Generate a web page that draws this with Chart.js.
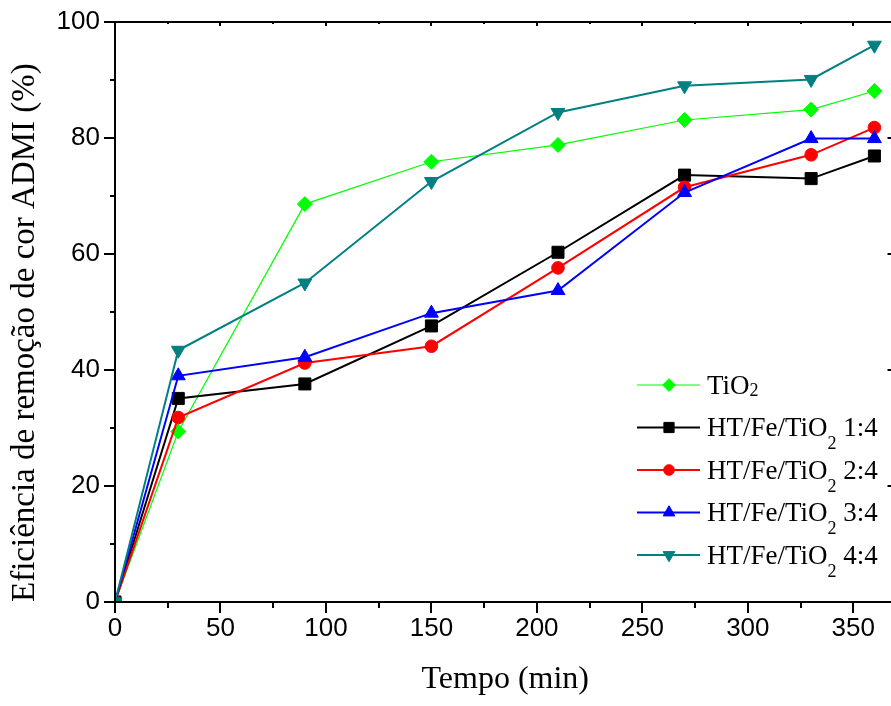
<!DOCTYPE html>
<html><head><meta charset="utf-8">
<script src="https://cdn.jsdelivr.net/npm/chart.js@4.4.1/dist/chart.umd.min.js"></script>
<style>
html,body{margin:0;padding:0;background:#fff;overflow:hidden;}
#wrap{width:891px;height:706px;overflow:hidden;position:relative;background:#fff;}
#inner{width:905px;height:706px;}
canvas{display:block;}
</style></head><body>
<div id="wrap"><div id="inner"><canvas id="c" width="905" height="706"></canvas></div></div>
<script>
// ---- data ----
const times = [0, 30, 90, 150, 210, 270, 330, 360];
const tio2  = [0, 29.4, 68.6, 75.9, 78.8, 83.1, 84.9, 88.1];
const ht14  = [0, 35.1, 37.6, 47.6, 60.3, 73.6, 73.0, 76.9];
const ht24  = [0, 31.8, 41.2, 44.1, 57.6, 71.5, 77.1, 81.8];
const ht34  = [0, 39.0, 42.2, 49.8, 53.7, 70.6, 79.9, 79.9];
const ht44  = [0, 43.4, 55.0, 72.5, 84.4, 89.0, 90.1, 96.0];
const seriesNames = ['TiO₂', 'HT/Fe/TiO₂ 1:4', 'HT/Fe/TiO₂ 2:4', 'HT/Fe/TiO₂ 3:4', 'HT/Fe/TiO₂ 4:4'];
const xTickValues = [0, 50, 100, 150, 200, 250, 300, 350];
const yTickValues = [0, 20, 40, 60, 80, 100];
const xTitle = 'Tempo (min)';
const yTitle = 'Eficiência de remoção de cor ADMI (%)';

// ---- styles ----
const styles = [
  {color:'#00ff00', style:'rectRot', radius:7.5, rotation:0, width:1.2},
  {color:'#000000', style:'rect', radius:8.5, rotation:0, width:2},
  {color:'#ff0000', style:'circle', radius:6.3, rotation:0, width:2},
  {color:'#0000ff', style:'triangle', radius:8, rotation:0, width:2},
  {color:'#008080', style:'triangle', radius:8, rotation:180, width:2}
];
const allSeries = [tio2, ht14, ht24, ht34, ht44];

const datasets = allSeries.map((vals, i) => ({
  label: seriesNames[i],
  data: times.map((t, k) => ({x: t, y: vals[k]})),
  borderColor: styles[i].color,
  backgroundColor: styles[i].color,
  pointBackgroundColor: styles[i].color,
  pointBorderColor: styles[i].color,
  pointBorderWidth: 1,
  borderWidth: styles[i].width,
  pointStyle: styles[i].style,
  pointRotation: styles[i].rotation,
  pointRadius: styles[i].radius,
  tension: 0,
  clip: 0,
  order: 5 - i
}));

const framePlugin = {
  id: 'frame',
  afterDraw(chart) {
    const {ctx, chartArea: a, scales: {x, y}} = chart;
    ctx.save();
    ctx.strokeStyle = '#000';
    ctx.lineWidth = 2;
    ctx.beginPath();
    ctx.rect(a.left, a.top, a.right - a.left, a.bottom - a.top);
    ctx.stroke();
    ctx.beginPath();
    for (let v = 0; v <= x.max; v += 25) {
      const px = Math.round(x.getPixelForValue(v));
      const major = v % 50 === 0;
      ctx.moveTo(px, a.bottom); ctx.lineTo(px, a.bottom + (major ? 11 : 6));
      ctx.moveTo(px, a.top); ctx.lineTo(px, a.top + (major ? 4 : 2));
    }
    for (let v = 0; v <= y.max; v += 10) {
      const py = Math.round(y.getPixelForValue(v));
      const major = v % 20 === 0;
      ctx.moveTo(a.left, py); ctx.lineTo(a.left - (major ? 11 : 5), py);
      ctx.moveTo(a.right, py); ctx.lineTo(a.right - (major ? 8 : 4), py);
    }
    ctx.stroke();
    ctx.restore();
  }
};

const legendPlugin = {
  id: 'customLegend',
  afterDraw(chart) {
    const ctx = chart.ctx;
    const x0 = 637, x1 = 700, mx = 669, tx = 707;
    const y0 = 385, dy = 42.5;
    ctx.save();
    chart.data.datasets.forEach((ds, i) => {
      const st = styles[i];
      const yy = y0 + i * dy;
      ctx.strokeStyle = st.color;
      ctx.lineWidth = st.width;
      ctx.beginPath(); ctx.moveTo(x0, yy); ctx.lineTo(x1, yy); ctx.stroke();
      ctx.fillStyle = st.color;
      ctx.strokeStyle = st.color;
      ctx.lineWidth = 1;
      Chart.helpers.drawPoint(ctx, {pointStyle: st.style, radius: st.radius * 0.85, rotation: st.rotation, borderWidth: 1}, mx, yy);
      const parts = ds.label.split('₂');
      const base = yy + 8.5;
      ctx.fillStyle = '#000';
      ctx.textBaseline = 'alphabetic';
      ctx.textAlign = 'left';
      ctx.font = '27px "Liberation Serif", "Times New Roman", serif';
      let cx = tx;
      ctx.fillText(parts[0], cx, base);
      cx += ctx.measureText(parts[0]).width;
      ctx.font = '18px "Liberation Serif", "Times New Roman", serif';
      const subOff = parts[1] && parts[1].length ? 13 : 2;
      ctx.fillText('2', cx, base + subOff);
      cx += ctx.measureText('2').width;
      if (parts[1]) {
        ctx.font = '27px "Liberation Serif", "Times New Roman", serif';
        ctx.fillText(parts[1], cx, base);
      }
    });
    ctx.restore();
  }
};

new Chart(document.getElementById('c'), {
  type: 'line',
  data: { datasets },
  options: {
    responsive: false,
    animation: false,
    devicePixelRatio: 1,
    layout: { padding: { top: 22, right: 6, bottom: 0, left: 0 } },
    plugins: { legend: { display: false }, tooltip: { enabled: false } },
    scales: {
      x: {
        type: 'linear', min: 0, max: 370,
        grid: { display: true, drawOnChartArea: false, drawTicks: true, tickLength: 11, tickColor: 'rgba(0,0,0,0)', color: 'rgba(0,0,0,0)' },
        border: { display: false },
        afterBuildTicks: (s) => { s.ticks = xTickValues.map(v => ({value: v})); },
        afterFit: (s) => { s.height = 104; },
        ticks: { color: '#000', padding: 0, maxRotation: 0, autoSkip: false,
          font: { family: '"Liberation Sans", Arial, sans-serif', size: 26 } },
        title: { display: true, text: xTitle, color: '#000', padding: 7,
          font: { family: '"Liberation Serif", "Times New Roman", serif', size: 32 } }
      },
      y: {
        type: 'linear', min: 0, max: 100,
        grid: { display: true, drawOnChartArea: false, drawTicks: true, tickLength: 15, tickColor: 'rgba(0,0,0,0)', color: 'rgba(0,0,0,0)' },
        border: { display: false },
        afterBuildTicks: (s) => { s.ticks = yTickValues.map(v => ({value: v})); },
        afterFit: (s) => { s.width = 115; },
        ticks: { color: '#000', padding: 0, autoSkip: false,
          font: { family: '"Liberation Sans", Arial, sans-serif', size: 26 } },
        title: { display: true, text: yTitle, color: '#000', padding: 6, align: 'start',
          font: { family: '"Liberation Serif", "Times New Roman", serif', size: 33 } }
      }
    }
  },
  plugins: [framePlugin, legendPlugin]
});
</script>
</body></html>
